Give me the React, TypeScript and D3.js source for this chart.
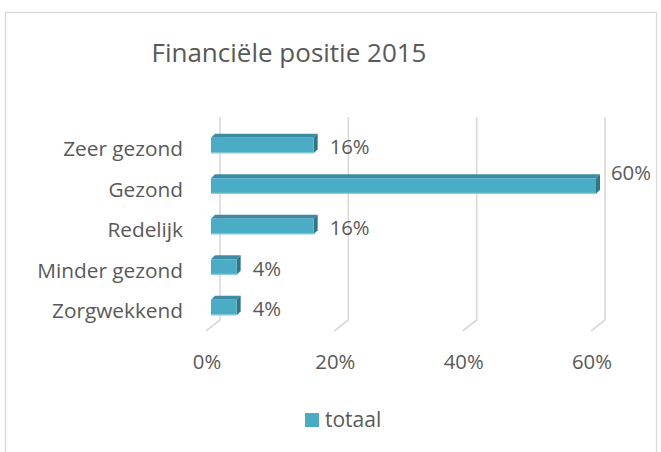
import React from "react";
import * as d3 from "d3";

const categories = ["Zeer gezond", "Gezond", "Redelijk", "Minder gezond", "Zorgwekkend"];
const values = [16, 60, 16, 4, 4];
const ticks = [0, 20, 40, 60];
const title = "Financiële positie 2015";
const seriesName = "totaal";

const W = 661;
const H = 452;
const FONT = "'Open Sans', sans-serif";
const TEXT = "#595959";
const GRID = "#D9D9D9";
const FRONT = "#4BACC6";
const TOP = "#3C8DA3";
const SIDE = "#2E7789";

export default function App() {
  const x = d3.scaleLinear().domain([0, 60]).range([211, 596]);
  const y = d3.scalePoint<string>().domain(categories).range([145.5, 307.5]);
  const bh = 15.5;
  const dx = 4;
  const dy = 4;
  const backOff = 9;
  const floorOff = -5;
  const gridTop = 117;
  const gridBottom = 320;
  const floorBottom = 331;

  return (
    <svg width={W} height={H} style={{ position: "absolute", left: 0, top: 0 }} fontFamily={FONT}>
      <rect x={0} y={0} width={W} height={H} fill="#fff" />
      <rect x={5.5} y={12.5} width={651} height={480} fill="none" stroke={GRID} strokeWidth={1.3} />
      <text x={289} y={62} textAnchor="middle" fontSize={26} fill={TEXT}>{title}</text>

      {ticks.map((t) => (
        <g key={t}>
          <path
            d={`M${x(t) + backOff},${gridTop}L${x(t) + backOff},${gridBottom}L${x(t) + floorOff},${floorBottom}`}
            fill="none"
            stroke={GRID}
            strokeWidth={1.6}
          />
          <text x={x(t) + floorOff + 1} y={369} textAnchor="middle" fontSize={20.3} fill={TEXT}>
            {t}%
          </text>
        </g>
      ))}

      {categories.map((c, i) => {
        const cy = y(c) as number;
        const x0 = x(0);
        const x1 = x(values[i]);
        const top = cy - bh / 2;
        const bot = cy + bh / 2;
        const isMax = values[i] === d3.max(values);
        return (
          <g key={c}>
            <polygon points={`${x0},${top} ${x0 + dx},${top - dy} ${x1 + dx},${top - dy} ${x1},${top}`} fill={TOP} />
            <polygon points={`${x1},${top} ${x1 + dx},${top - dy} ${x1 + dx},${bot - dy} ${x1},${bot}`} fill={SIDE} />
            <rect x={x0} y={top} width={x1 - x0} height={bh} fill={FRONT} />
            <line x1={x0} x2={x1} y1={bot - 0.5} y2={bot - 0.5} stroke="#8FD0E0" strokeWidth={1} />
            <text x={183} y={cy + 10.5} textAnchor="end" fontSize={20.8} fill={TEXT}>{c}</text>
            <text
              x={isMax ? x1 + 15 : x1 + 16}
              y={isMax ? cy - 6 : cy + 8.5}
              fontSize={20.3}
              fill={TEXT}
            >
              {values[i]}%
            </text>
          </g>
        );
      })}

      <rect x={305} y={413} width={14} height={14} fill={FRONT} />
      <text x={325} y={427} fontSize={21} fill={TEXT}>{seriesName}</text>
    </svg>
  );
}
